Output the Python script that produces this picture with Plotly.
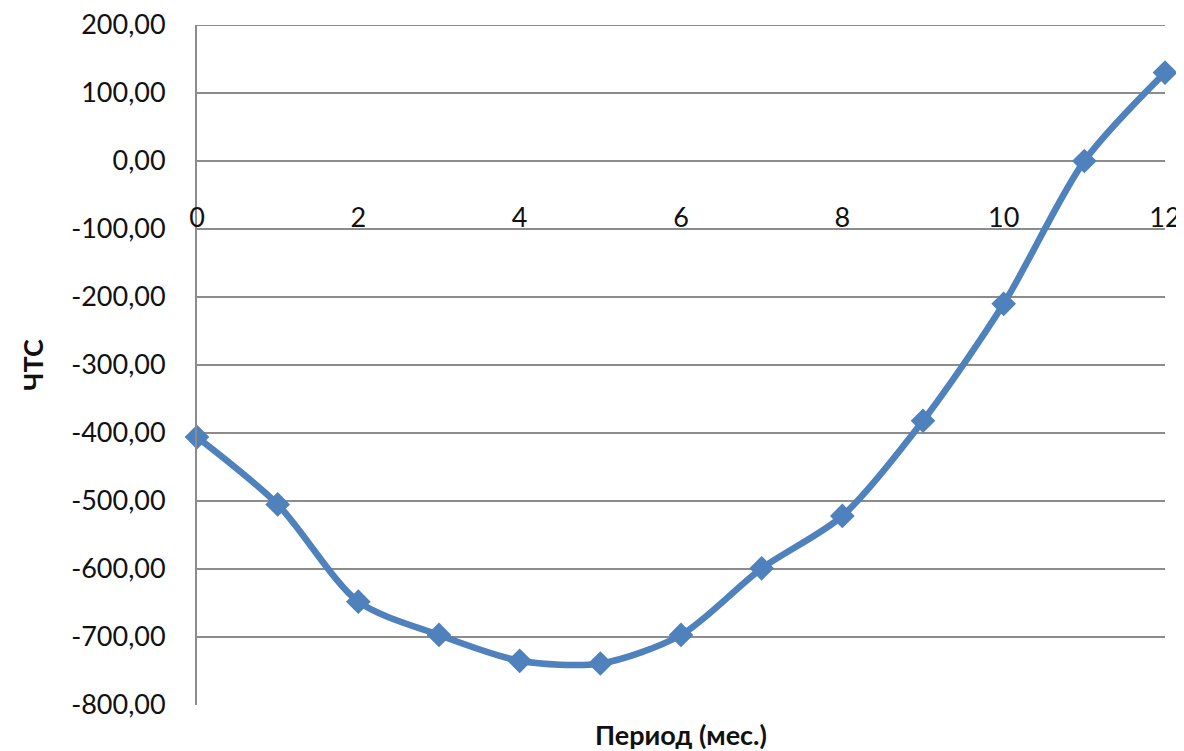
import plotly.graph_objects as go

periods = [0, 1, 2, 3, 4, 5, 6, 7, 8, 9, 10, 11, 12]
npv = [-406, -505, -648, -697, -735, -739, -697, -599, -522, -382, -210, 0, 130]

y_tickvals = [200, 100, 0, -100, -200, -300, -400, -500, -600, -700, -800]
y_ticktext = ["200,00", "100,00", "0,00", "-100,00", "-200,00", "-300,00",
              "-400,00", "-500,00", "-600,00", "-700,00", "-800,00"]
x_tickvals = [0, 2, 4, 6, 8, 10, 12]
x_ticktext = ["0", "2", "4", "6", "8", "10", "12"]

FONT = "Lato"
GRID = "#8c8c8c"
fig = go.Figure()
fig.add_trace(go.Scatter(
    x=periods, y=npv, mode="lines+markers",
    line=dict(color="#4F81BD", width=6.5, shape="spline", smoothing=0.8),
    marker=dict(symbol="diamond", size=19, color="#4F81BD"),
    showlegend=False, cliponaxis=False,
))
# invisible helper trace to activate the label axis
fig.add_trace(go.Scatter(x=[0, 12], y=[None, None], xaxis="x2", yaxis="y",
                         showlegend=False, hoverinfo="skip"))

# top gridline (plotly omits the grid line at the range edge)
fig.add_hline(y=max(y_tickvals), line=dict(color=GRID, width=2), layer="below")

# page body has an 8px margin, so the figure is offset by (8, 8)
W, H = 1176, 743
l, r, t, b = 189, 19, 17, 46
plot_h = H - t - b
label_axis_y = 199 - 8  # figure-pixel position of label axis
pos = (H - b - label_axis_y) / plot_h

fig.update_layout(
    width=W, height=H,
    margin=dict(l=l, r=r, t=t, b=b, autoexpand=False),
    paper_bgcolor="white", plot_bgcolor="white",
    font=dict(family=FONT, size=27, color="#111111"),
    xaxis=dict(range=[0, 12], showgrid=False, zeroline=False, automargin=False,
               showline=False, showticklabels=False, ticks="",
               title=dict(text="<b>Период (мес.)</b>", standoff=24,
                          font=dict(size=27))),
    xaxis2=dict(range=[0, 12], matches="x", overlaying="x", anchor="free",
                position=pos, side="bottom", showgrid=False, zeroline=False,
                showline=False, tickvals=x_tickvals, ticktext=x_ticktext,
                ticks="", tickfont=dict(size=27), automargin=False,
                ticklabeloverflow="allow"),
    yaxis=dict(range=[-800, 200], tickvals=y_tickvals, ticktext=y_ticktext,
               showgrid=True, gridcolor=GRID, gridwidth=2, automargin=False,
               zeroline=False, showline=True, linecolor=GRID, linewidth=2,
               ticks="", ticklabelstandoff=24, ticklabeloverflow="allow",
               title=dict(text="<b>ЧТС</b>", standoff=20, font=dict(size=27))),
)
fig.write_html("out.html")
